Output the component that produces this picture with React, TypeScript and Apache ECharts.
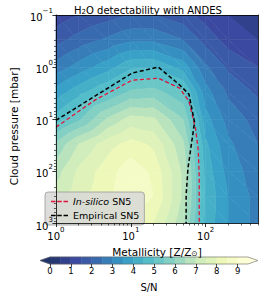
import React, { useEffect, useRef } from 'react';
import * as echarts from 'echarts';

// ---------------- data ----------------
const METALLICITY = [1, 2, 5, 10, 20, 50, 100, 200, 500];
const PRESSURE = [0.1, 0.3, 1, 3, 10, 30, 100, 300, 1000];
// S/N rows, one per pressure level, columns follow METALLICITY
const SN_P0_1 = [1.2, 1.5, 1.8, 2.0, 2.0, 1.7, 1.3, 1.0, 0.8];
const SN_P0_3 = [1.8, 2.2, 2.6, 2.9, 2.9, 2.5, 1.8, 1.3, 1.0];
const SN_P1 = [2.7, 3.2, 3.8, 4.4, 4.45, 3.8, 2.6, 1.9, 1.5];
const SN_P3 = [3.7, 4.3, 5.0, 5.6, 5.7, 5.1, 3.2, 2.4, 1.9];
const SN_P10 = [4.7, 5.4, 6.6, 7.2, 7.1, 6.0, 3.7, 2.8, 2.3];
const SN_P30 = [6.1, 7.0, 7.8, 8.2, 7.9, 6.6, 4.1, 3.1, 2.5];
const SN_P100 = [6.8, 7.6, 8.3, 8.8, 8.4, 6.9, 4.3, 3.3, 2.7];
const SN_P300 = [7.2, 7.8, 8.4, 8.9, 8.5, 6.9, 4.4, 3.5, 2.8];
const SN_P1000 = [7.5, 7.9, 8.2, 8.4, 8.0, 6.6, 4.3, 3.5, 2.8];
const SN_GRID = [SN_P0_1, SN_P0_3, SN_P1, SN_P3, SN_P10, SN_P30, SN_P100, SN_P300, SN_P1000];

const INSILICO_Z = [1, 3.3, 10.4, 23.3, 44.9, 59.8, 73, 79.6, 81.9, 82];
const INSILICO_P = [14.2, 4.3, 1.78, 1.63, 2.53, 4.5, 14.9, 39.5, 119, 1000];
const EMPIRICAL_Z = [1, 10.4, 23.3, 44.9, 59.8, 71, 58, 54.8, 54.8];
const EMPIRICAL_P = [10.5, 1.3, 1.0, 2.2, 3.3, 11.4, 87, 289, 1000];

const LEVELS = [0, 0.5, 1, 1.5, 2, 2.5, 3, 3.5, 4, 4.5, 5, 5.5, 6, 6.5, 7, 7.5, 8, 8.5, 9, 9.5];
const CB_TICKS = [0, 1, 2, 3, 4, 5, 6, 7, 8, 9];
const X_MAJOR = [1, 10, 100];
const Y_MAJOR = [0.1, 1, 10, 100, 1000];
const X_MINOR = [2, 3, 4, 5, 6, 7, 8, 9, 20, 30, 40, 50, 60, 70, 80, 90, 200, 300, 400, 500];
const Y_MINOR = [0.2, 0.3, 0.4, 0.5, 0.6, 0.7, 0.8, 0.9, 2, 3, 4, 5, 6, 7, 8, 9,
  20, 30, 40, 50, 60, 70, 80, 90, 200, 300, 400, 500, 600, 700, 800, 900];

// YlGnBu reversed, drawn with alpha 0.9 over white
const CMAP_STOPS = ['#081d58', '#253494', '#225ea8', '#1d91c0', '#41b6c4', '#7fcdbb', '#c7e9b4', '#edf8b1', '#ffffd9'];
const FILL_ALPHA = 0.9;
const FONT = 'DejaVu Sans';

function hexToRgb(h: string) {
  return [parseInt(h.slice(1, 3), 16), parseInt(h.slice(3, 5), 16), parseInt(h.slice(5, 7), 16)];
}
function cmap(t: number) {
  const tt = Math.max(0, Math.min(1, t));
  const s = tt * (CMAP_STOPS.length - 1);
  const i = Math.min(CMAP_STOPS.length - 2, Math.floor(s));
  const f = s - i;
  const a = hexToRgb(CMAP_STOPS[i]);
  const b = hexToRgb(CMAP_STOPS[i + 1]);
  const c = a.map((v, k) => {
    const raw = v + (b[k] - v) * f;
    return Math.round(raw * FILL_ALPHA + 255 * (1 - FILL_ALPHA));
  });
  return `rgb(${c[0]},${c[1]},${c[2]})`;
}
const LMIN = LEVELS[0];
const LMAX = LEVELS[LEVELS.length - 1];
const BANDS: { lo: number; hi: number; color: string }[] = [];
BANDS.push({ lo: -Infinity, hi: LMIN, color: cmap(0) });
for (let k = 0; k < LEVELS.length - 1; k++) {
  BANDS.push({ lo: LEVELS[k], hi: LEVELS[k + 1], color: cmap(((LEVELS[k] + LEVELS[k + 1]) / 2 - LMIN) / (LMAX - LMIN)) });
}
BANDS.push({ lo: LMAX, hi: Infinity, color: cmap(1) });

type P3 = [number, number, number];
function clip(poly: P3[], thr: number, keepAbove: boolean): P3[] {
  const out: P3[] = [];
  for (let k = 0; k < poly.length; k++) {
    const a = poly[k];
    const b = poly[(k + 1) % poly.length];
    const ain = keepAbove ? a[2] >= thr : a[2] <= thr;
    const bin = keepAbove ? b[2] >= thr : b[2] <= thr;
    if (ain) out.push(a);
    if (ain !== bin) {
      const s = (thr - a[2]) / (b[2] - a[2]);
      out.push([a[0] + s * (b[0] - a[0]), a[1] + s * (b[1] - a[1]), thr]);
    }
  }
  return out;
}

// contour triangles (cell i, j, triangle t)
const contourData: number[][] = [];
for (let j = 0; j < PRESSURE.length - 1; j++) {
  for (let i = 0; i < METALLICITY.length - 1; i++) {
    for (let t = 0; t < 2; t++) contourData.push([METALLICITY[i], PRESSURE[j], i, j, t]);
  }
}

const cbData: number[][] = [];
for (let k = 0; k < LEVELS.length - 1; k++) cbData.push([LEVELS[k], LEVELS[k + 1], 0, k + 1]);
cbData.push([LMIN, LMIN, 1, 0]);
cbData.push([LMAX, LMAX, 2, BANDS.length - 1]);
cbData.push([LMIN, LMAX, 3, 0]);

const powLabel = (v: number) => {
  const e = Math.round(Math.log10(v));
  return '{b|10}{sup|' + (e < 0 ? '\u2212' + -e : String(e)) + '}';
};
const tickRich = {
  b: { fontSize: 10, lineHeight: 15, verticalAlign: 'bottom', fontFamily: FONT, color: '#000' },
  sup: { fontSize: 7, lineHeight: 8, verticalAlign: 'top', fontFamily: FONT, color: '#000' },
};
const spine = { color: '#000', width: 0.8 };
const DASH_ICON = 'path://M0,0h4.5v1.6h-4.5z M6.3,0h4.5v1.6h-4.5z M12.6,0h4.5v1.6h-4.5z';

const option: any = {
  animation: false,
  backgroundColor: '#fff',
  textStyle: { fontFamily: FONT },
  title: {
    text: 'H{sub|2}O detectability with ANDES',
    left: 143,
    top: 0,
    textAlign: 'center',
    textStyle: {
      fontFamily: FONT, fontSize: 10, fontWeight: 'normal', color: '#000',
      rich: {
        sub: { fontSize: 7, lineHeight: 7, verticalAlign: 'bottom', fontFamily: FONT, color: '#000' },
      },
    },
  },
  legend: {
    left: 45,
    top: 192,
    orient: 'vertical',
    backgroundColor: 'rgba(216,216,214,0.88)',
    borderColor: '#999',
    borderWidth: 0.8,
    borderRadius: 3,
    padding: [4, 5, 4, 6],
    itemGap: 3,
    itemWidth: 17,
    itemHeight: 1.6,
    icon: DASH_ICON,
    data: ['In-silico SN5', 'Empirical SN5'],
    formatter: (name: string) => (name === 'In-silico SN5' ? '{i|In-silico} SN5' : name),
    textStyle: {
      fontFamily: FONT, fontSize: 9.5, color: '#000', lineHeight: 11,
      rich: { i: { fontStyle: 'italic', fontFamily: FONT, fontSize: 9.5, color: '#000', lineHeight: 11 } },
    },
  },
  grid: [
    { left: 40, top: 15, width: 218, height: 208.5 },
    { left: 50, top: 257, width: 198, height: 9 },
  ],
  xAxis: [
    {
      type: 'log', logBase: 10, gridIndex: 0, min: 1, max: 500, position: 'bottom', z: 5,
      axisLine: { show: true, onZero: false, lineStyle: spine },
      axisTick: { show: true, inside: false, length: 3.5, lineStyle: spine, customValues: X_MAJOR },
      axisLabel: { customValues: X_MAJOR, formatter: powLabel, margin: 3, rich: tickRich },
      splitLine: { show: false },
      name: 'Metallicity [Z/Z{sub|\u2299}]',
      nameLocation: 'middle',
      nameGap: 22,
      nameTextStyle: {
        fontFamily: FONT, fontSize: 10.5, color: '#000',
        rich: { sub: { fontSize: 7.5, lineHeight: 7, verticalAlign: 'bottom', fontFamily: FONT, color: '#000' } },
      },
    },
    {
      type: 'log', logBase: 10, gridIndex: 0, min: 1, max: 500, position: 'bottom', z: 5,
      axisLine: { show: false, onZero: false },
      axisTick: { show: true, inside: false, length: 2, lineStyle: { color: '#000', width: 0.6 }, customValues: X_MINOR },
      axisLabel: { show: false },
      splitLine: { show: false },
    },
    {
      type: 'log', logBase: 10, gridIndex: 0, min: 1, max: 500, position: 'top', z: 5,
      axisLine: { show: true, onZero: false, lineStyle: spine },
      axisTick: { show: false },
      axisLabel: { show: false },
      splitLine: { show: false },
    },
    {
      type: 'value', gridIndex: 1, min: LMIN, max: LMAX, position: 'bottom', z: 5,
      axisLine: { show: false, onZero: false },
      axisTick: { show: true, inside: false, length: 3, lineStyle: { color: '#000', width: 0.7 }, customValues: CB_TICKS },
      axisLabel: { customValues: CB_TICKS, fontSize: 8.5, margin: 2, color: '#000', fontFamily: FONT },
      splitLine: { show: false },
      name: 'S/N',
      nameLocation: 'middle',
      nameGap: 18,
      nameTextStyle: { fontFamily: FONT, fontSize: 10, color: '#000' },
    },
  ],
  yAxis: [
    {
      type: 'log', logBase: 10, gridIndex: 0, min: 0.1, max: 1000, inverse: true, position: 'left', z: 5,
      axisLine: { show: true, onZero: false, lineStyle: spine },
      axisTick: { show: true, inside: false, length: 3.5, lineStyle: spine, customValues: Y_MAJOR },
      axisLabel: { customValues: Y_MAJOR, formatter: powLabel, margin: 3, rich: tickRich },
      splitLine: { show: false },
      name: 'Cloud pressure [mbar]',
      nameLocation: 'middle',
      nameGap: 30,
      nameRotate: 90,
      nameTextStyle: { fontFamily: FONT, fontSize: 10.5, color: '#000', padding: [0, 14, 0, 0] },
    },
    {
      type: 'log', logBase: 10, gridIndex: 0, min: 0.1, max: 1000, inverse: true, position: 'left', z: 5,
      axisLine: { show: false, onZero: false },
      axisTick: { show: true, inside: false, length: 2, lineStyle: { color: '#000', width: 0.6 }, customValues: Y_MINOR },
      axisLabel: { show: false },
      splitLine: { show: false },
    },
    {
      type: 'log', logBase: 10, gridIndex: 0, min: 0.1, max: 1000, inverse: true, position: 'right', z: 5,
      axisLine: { show: true, onZero: false, lineStyle: spine },
      axisTick: { show: false },
      axisLabel: { show: false },
      splitLine: { show: false },
    },
    {
      type: 'value', gridIndex: 1, min: 0, max: 1, show: false,
    },
  ],
  series: [
    {
      type: 'custom',
      name: 'S/N',
      xAxisIndex: 0,
      yAxisIndex: 0,
      clip: true,
      z: 1,
      silent: true,
      data: contourData,
      renderItem: (params: any, api: any) => {
        const i = api.value(2);
        const j = api.value(3);
        const t = api.value(4);
        const corners = t === 0 ? [[i, j], [i + 1, j], [i + 1, j + 1]] : [[i, j], [i + 1, j + 1], [i, j + 1]];
        const pts: P3[] = corners.map(([a, b]) => {
          const c = api.coord([METALLICITY[a], PRESSURE[b]]);
          return [c[0], c[1], SN_GRID[b][a]] as P3;
        });
        const children: any[] = [];
        for (const band of BANDS) {
          let poly = pts;
          if (isFinite(band.lo)) poly = clip(poly, band.lo, true);
          if (poly.length >= 3 && isFinite(band.hi)) poly = clip(poly, band.hi, false);
          if (poly.length >= 3) {
            children.push({
              type: 'polygon',
              shape: { points: poly.map((p) => [p[0], p[1]]) },
              style: { fill: band.color, stroke: band.color, lineWidth: 0.6 },
            });
          }
        }
        return { type: 'group', children };
      },
    },
    {
      type: 'line',
      name: 'In-silico SN5',
      xAxisIndex: 0,
      yAxisIndex: 0,
      z: 4,
      symbol: 'none',
      data: INSILICO_Z.map((z, k) => [z, INSILICO_P[k]]),
      lineStyle: { color: '#dc143c', width: 1.3, type: [4, 2.5] },
      itemStyle: { color: '#dc143c' },
    },
    {
      type: 'line',
      name: 'Empirical SN5',
      xAxisIndex: 0,
      yAxisIndex: 0,
      z: 4,
      symbol: 'none',
      data: EMPIRICAL_Z.map((z, k) => [z, EMPIRICAL_P[k]]),
      lineStyle: { color: '#000', width: 1.5, type: [4, 2.5] },
      itemStyle: { color: '#000' },
    },
    {
      type: 'custom',
      name: 'colorbar',
      xAxisIndex: 3,
      yAxisIndex: 3,
      clip: false,
      silent: true,
      data: cbData,
      renderItem: (params: any, api: any) => {
        const lo = api.value(0);
        const hi = api.value(1);
        const kind = api.value(2);
        const bi = api.value(3);
        const ext = 0.05 * (LMAX - LMIN);
        const color = BANDS[bi].color;
        if (kind === 0) {
          const p0 = api.coord([lo, 1]);
          const p1 = api.coord([hi, 0]);
          return {
            type: 'rect',
            shape: { x: p0[0], y: p0[1], width: p1[0] - p0[0], height: p1[1] - p0[1] },
            style: { fill: color, stroke: color, lineWidth: 0.5 },
          };
        }
        if (kind === 1) {
          return {
            type: 'polygon',
            shape: { points: [api.coord([lo, 0]), api.coord([lo, 1]), api.coord([lo - ext, 0.5])] },
            style: { fill: color, stroke: color, lineWidth: 0.5 },
          };
        }
        if (kind === 2) {
          return {
            type: 'polygon',
            shape: { points: [api.coord([hi, 0]), api.coord([hi, 1]), api.coord([hi + ext, 0.5])] },
            style: { fill: color, stroke: color, lineWidth: 0.5 },
          };
        }
        return {
          type: 'polygon',
          z2: 10,
          shape: {
            points: [api.coord([lo, 0]), api.coord([lo - ext, 0.5]), api.coord([lo, 1]),
              api.coord([hi, 1]), api.coord([hi + ext, 0.5]), api.coord([hi, 0])],
          },
          style: { fill: 'none', stroke: '#666', lineWidth: 0.6 },
        };
      },
    },
  ],
};

export default function App() {
  const ref = useRef<HTMLDivElement>(null);
  useEffect(() => {
    document.body.style.margin = '0';
    const chart = echarts.init(ref.current!, undefined, { renderer: 'svg', width: 262, height: 293 });
    chart.setOption(option);
    return () => chart.dispose();
  }, []);
  return <div ref={ref} style={{ width: 262, height: 293 }} />;
}
